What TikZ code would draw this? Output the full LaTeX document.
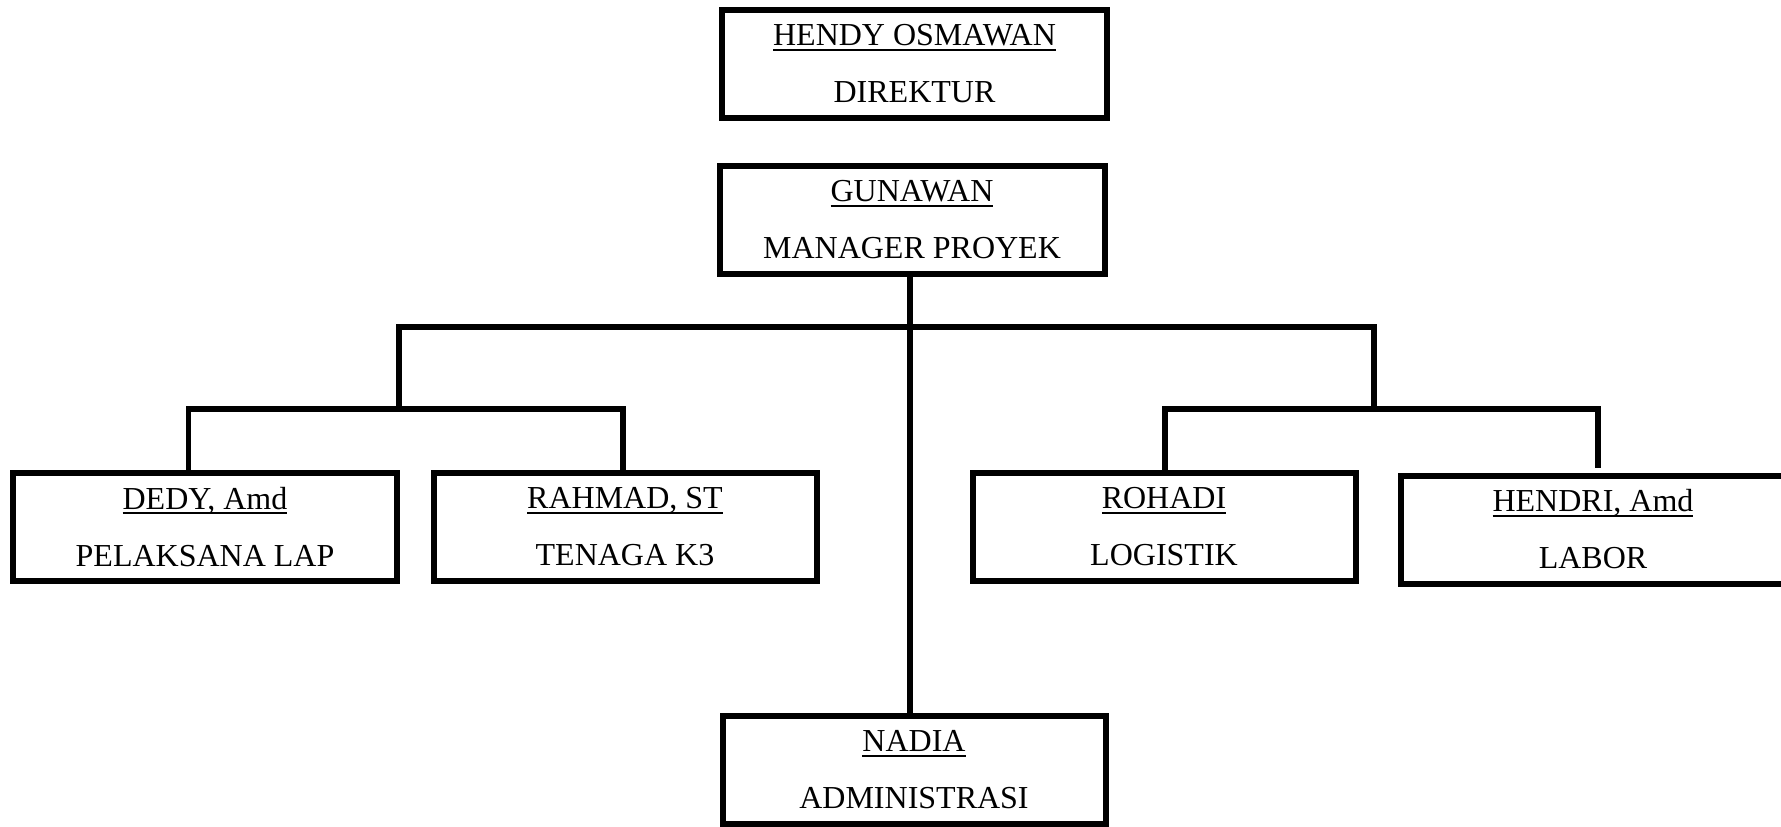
\documentclass[tikz,border=0pt]{standalone}
\usepackage{fontspec}
\setmainfont{Liberation Serif}
\newcommand\uname[1]{\setbox0\hbox{#1}\rlap{\raisebox{-5pt}{\rule{\wd0}{2pt}}}\box0}
\begin{document}
\begin{tikzpicture}[x=1pt,y=-1pt,
  box/.style={draw, line width=6pt, minimum width=385pt, minimum height=108pt,
    inner sep=0pt, align=center, font=\fontsize{32}{57}\selectfont},
  conn/.style={line width=5.5pt}]
\useasboundingbox (0,0) rectangle (1781,827);
\node[box] (dir) at (914.5,63.7) {\uname{HENDY OSMAWAN}\\DIREKTUR};
\node[box] (mgr) at (912,220) {\uname{GUNAWAN}\\MANAGER PROYEK};
\node[box, minimum width=384pt] (dedy) at (205,527) {\uname{DEDY, Amd}\\PELAKSANA LAP};
\node[box, minimum width=383pt] (rahmad) at (625,527) {\uname{RAHMAD, ST}\\TENAGA K3};
\node[box, minimum width=383pt] (rohadi) at (1164,527) {\uname{ROHADI}\\LOGISTIK};
\node[box, minimum width=384pt] (hendri) at (1593,529.5) {\uname{HENDRI, Amd}\\LABOR};
\node[box, minimum width=383pt] (nadia) at (914,770) {\uname{NADIA}\\ADMINISTRASI};
\coordinate (mv) at (910,275);
\coordinate (tl) at (399,327);
\coordinate (tr) at (1374,327);
\coordinate (dl) at (188.5,409);
\coordinate (rl) at (623,409);
\coordinate (sl) at (399,409);
\coordinate (sr) at (1374,409);
\coordinate (ol) at (1165,409);
\coordinate (hl) at (1598,409);
\coordinate (hend) at (1598,468);
\draw[conn] (mv |- mgr.south) -- (mv |- nadia.north);
\draw[conn] (sl) -- (tl) -- (tr) -- (sr);
\draw[conn] (dl |- dedy.north) -- (dl) -- (rl) -- (rl |- rahmad.north);
\draw[conn] (ol |- rohadi.north) -- (ol) -- (hl) -- (hend);
\end{tikzpicture}
\end{document}
